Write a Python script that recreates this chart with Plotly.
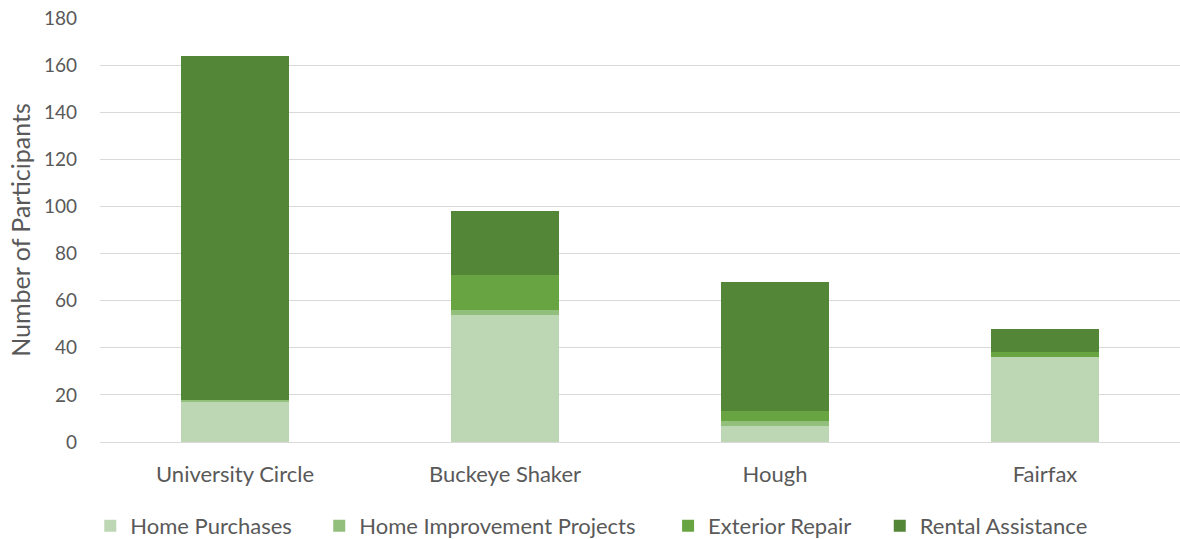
import plotly.graph_objects as go

categories = ["University Circle", "Buckeye Shaker", "Hough", "Fairfax"]
home_purchases = [17, 54, 7, 36]
home_improvement = [1, 2, 2, 0]
exterior_repair = [0, 15, 4, 2]
rental_assistance = [146, 27, 55, 10]
y_ticks = [0, 20, 40, 60, 80, 100, 120, 140, 160, 180]

series = [
    ("Home Purchases", home_purchases, "#BDD7B4", "legend", -0.009),
    ("Home Improvement Projects", home_improvement, "#93BF7D", "legend2", 0.203),
    ("Exterior Repair", exterior_repair, "#69A443", "legend3", 0.526),
    ("Rental Assistance", rental_assistance, "#548638", "legend4", 0.722),
]

fig = go.Figure()
for name, vals, color, leg, _ in series:
    fig.add_trace(go.Bar(
        x=categories, y=vals, name=name, legend=leg,
        marker=dict(color=color, line=dict(width=0)),
    ))

font_family = "Lato, 'Open Sans', sans-serif"
legend_common = dict(orientation="h", xanchor="left", y=-0.198, yanchor="middle",
                     font=dict(size=22, color="#595959"), itemwidth=30,
                     bgcolor="rgba(0,0,0,0)")
legends = {}
for name, vals, color, leg, lx in series:
    legends[leg] = dict(legend_common, x=lx)

fig.update_layout(
    barmode="stack",
    bargap=0.6,
    width=1180, height=539,
    margin=dict(l=100, r=0, t=18, b=97, autoexpand=False),
    paper_bgcolor="white",
    plot_bgcolor="white",
    font=dict(family=font_family, size=20, color="#595959"),
    xaxis=dict(showgrid=False, showline=True, linecolor="#D9D9D9", linewidth=1,
               ticks="", ticklabelstandoff=13, automargin=False,
               tickfont=dict(size=22, color="#595959")),
    yaxis=dict(range=[0, 180], tickvals=y_ticks, showgrid=True, gridcolor="#D9D9D9",
               gridwidth=1, zeroline=False, showline=False, ticks="",
               ticklabelstandoff=22, automargin=False,
               title=dict(text="Number of Participants", font=dict(size=25, color="#595959"),
                          standoff=6),
               tickfont=dict(size=19, color="#595959")),
    showlegend=True,
    **legends,
)

fig.write_html("out.html")
